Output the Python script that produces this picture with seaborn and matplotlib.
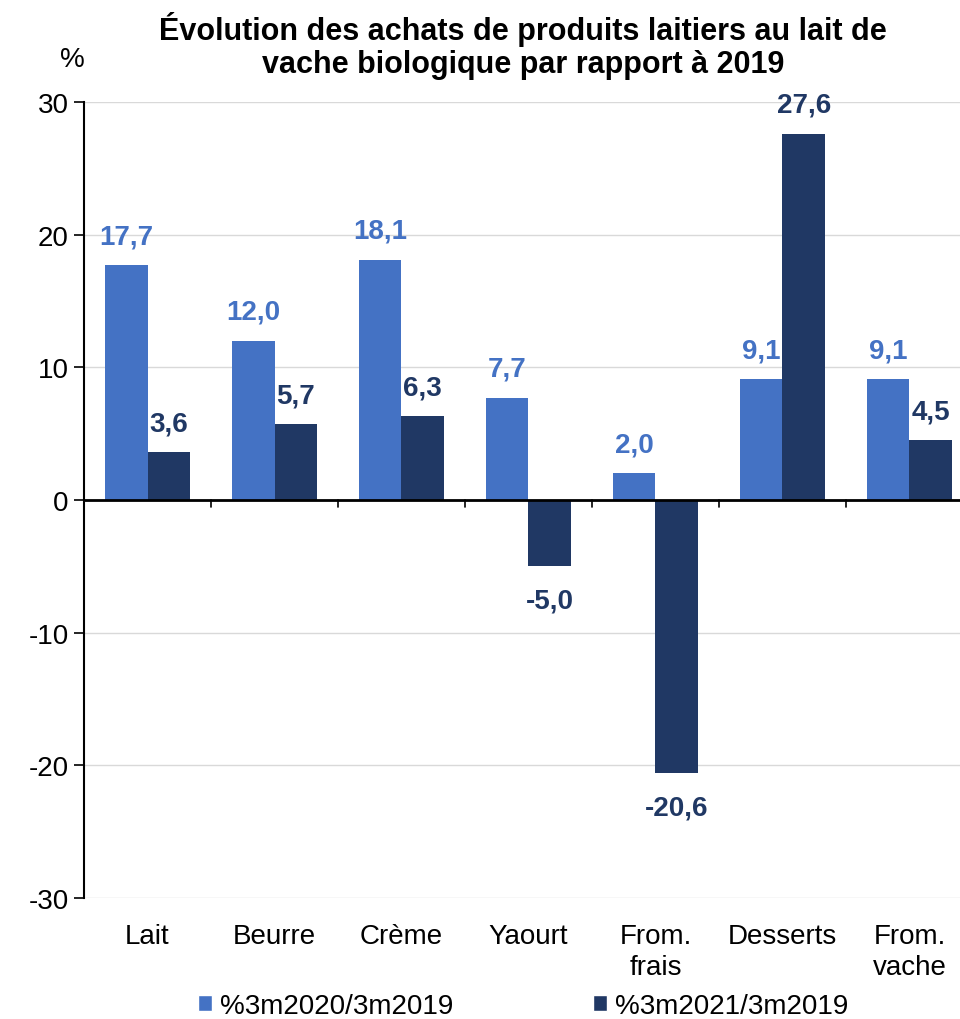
import numpy as np
import pandas as pd
import matplotlib
matplotlib.use("Agg")
import matplotlib.pyplot as plt
import seaborn as sns
from matplotlib.patches import Patch

categories = ["Lait", "Beurre", "Crème", "Yaourt", "From.\nfrais", "Desserts", "From.\nvache"]
serie_2020 = [17.7, 12.0, 18.1, 7.7, 2.0, 9.1, 9.1]
serie_2021 = [3.6, 5.7, 6.3, -5.0, -20.6, 27.6, 4.5]
series_names = ["%3m2020/3m2019", "%3m2021/3m2019"]
colors = ["#4472C4", "#203864"]

df = pd.DataFrame({
    "cat": categories * 2,
    "serie": [series_names[0]] * 7 + [series_names[1]] * 7,
    "val": serie_2020 + serie_2021,
})

sns.set_style("white")
plt.rcParams["font.family"] = ["Liberation Sans", "DejaVu Sans"]
plt.rcParams["text.color"] = "black"
plt.rcParams["xtick.color"] = "black"
plt.rcParams["ytick.color"] = "black"

fig = plt.figure(figsize=(9.6, 10.2), dpi=100)
ax = fig.add_axes([84 / 960, 1 - 899 / 1020, 889 / 960, 796 / 1020])

sns.barplot(data=df, x="cat", y="val", hue="serie", palette=colors,
            width=0.67, ax=ax, legend=False, saturation=1, linewidth=0)

ax.set_ylim(-30, 30)
ax.set_yticks(np.arange(-30, 31, 10))
ax.set_yticklabels([str(v) for v in range(-30, 31, 10)], fontsize=20)
ax.yaxis.grid(True, color="#d9d9d9", linewidth=1)
ax.set_axisbelow(True)
ax.set_xlim(-0.5, len(categories) - 0.5)
ax.set_xlabel("")
ax.set_ylabel("")

for s in ["top", "right", "bottom"]:
    ax.spines[s].set_visible(False)
ax.spines["left"].set_color("black")
ax.spines["left"].set_linewidth(1.5)
ax.axhline(0, color="black", linewidth=2, zorder=3)

ax.tick_params(axis="y", direction="out", length=7, width=1.2, color="black", left=True, pad=4)
ax.set_xticks(range(len(categories)))
ax.set_xticklabels(categories, fontsize=20, linespacing=1.25)
ax.tick_params(axis="x", length=0, pad=18)
# petites graduations entre les catégories, sur l'axe zéro
for b in np.arange(0.5, len(categories) - 0.5, 1):
    ax.plot([b, b], [0, -0.55], color="black", linewidth=1.2, zorder=4, clip_on=False)

# étiquettes de valeurs
for container, col in zip(ax.containers, colors):
    for bar in container:
        h = bar.get_height()
        x = bar.get_x() + bar.get_width() / 2
        txt = f"{h:.1f}".replace(".", ",")
        if h >= 0:
            ax.text(x, h + 1.2, txt, ha="center", va="bottom", color=col,
                    fontsize=20, fontweight="bold")
        else:
            ax.text(x, h - 1.6, txt, ha="center", va="top", color=col,
                    fontsize=20, fontweight="bold")

fig.text(0.545, 0.988, "Évolution des achats de produits laitiers au lait de\nvache biologique par rapport à 2019",
         ha="center", va="top", fontsize=22, fontweight="bold", linespacing=1.1)
fig.text(72 / 960, 1 - 60 / 1020, "%", ha="center", va="center", fontsize=20)

handles = [Patch(facecolor=c, label=n) for c, n in zip(colors, series_names)]
fig.legend(handles=handles, loc="center", bbox_to_anchor=(0.545, 1 - 1007 / 1020), ncol=2,
           frameon=False, fontsize=20, handlelength=0.5, handleheight=0.5,
           handletextpad=0.3, columnspacing=5.0)

fig.savefig("out.png", dpi=100)
